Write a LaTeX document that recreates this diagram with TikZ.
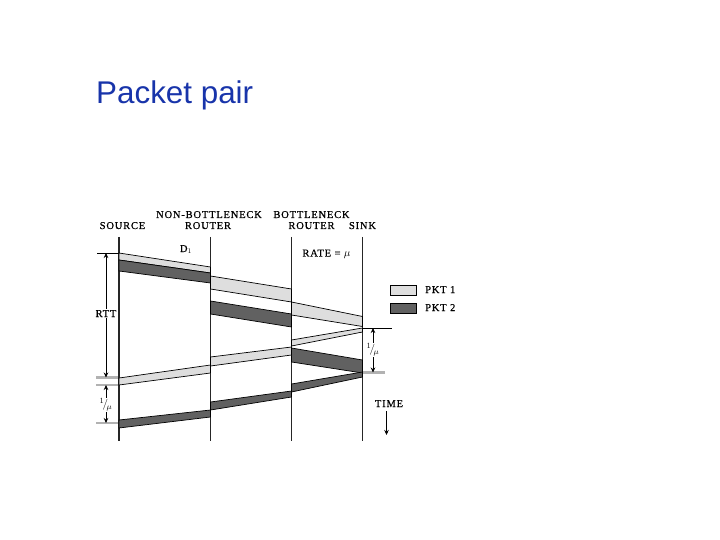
\documentclass[tikz,border=0pt]{standalone}
\usepackage{fontspec}
\setmainfont{Liberation Serif}
\newfontfamily\titlefont{Liberation Sans}
\usetikzlibrary{arrows.meta}
\definecolor{titleblue}{RGB}{24,52,170}
\definecolor{pktlight}{gray}{0.87}
\definecolor{pktdark}{gray}{0.38}
\definecolor{tickgray}{gray}{0.70}
\newcommand\lblfont{\fontsize{10.5}{12}\selectfont\addfontfeature{LetterSpace=8,FakeBold=0.6}}
\newcommand\invmu{{\fontsize{11}{12}\selectfont$^{1}\!/_{\!\mu}$}}
\begin{document}
\begin{tikzpicture}[x=1bp,y=-1bp,
  lbl/.style={font=\lblfont, inner sep=0pt, anchor=base},
  vline/.style={line width=1.3bp, draw=black!85},
  bandA/.style={fill=pktlight, draw=black, line width=0.7bp},
  bandB/.style={fill=pktdark, draw=black, line width=0.7bp},
  gtick/.style={draw=tickgray, line width=2.2bp},
  btick/.style={draw=black, line width=0.6bp},
  dimarrow/.style={draw=black, line width=0.6bp, {Stealth[length=5bp,width=4.5bp]}-{Stealth[length=5bp,width=4.5bp]}},
  onearrow/.style={draw=black, line width=0.6bp, -{Stealth[length=5bp,width=4.5bp]}},
]
\path[use as bounding box] (0,0) rectangle (720,540);
\node[font=\titlefont\fontsize{31.5}{36}\selectfont, text=titleblue, anchor=base west, inner sep=0pt] (title) at (96,104) {Packet pair};

% header labels
\node[lbl] (src) at (122.5,229) {SOURCE};
\node[lbl] (nb1) at (209,218) {NON-BOTTLENECK};
\node[lbl] (nb2) at (208,229) {ROUTER};
\node[lbl] (b1) at (311.5,218) {BOTTLENECK};
\node[lbl] (b2) at (311.5,229) {ROUTER};
\node[lbl] (sink) at (362.5,229) {SINK};
\node[lbl] (d1) at (186,252) {D$_1$};
\node[lbl] (rate) at (326.5,256.5) {RATE = $\mu$};

% vertical time lines
\coordinate (sT) at (119,237);   \coordinate (sB) at (119,441);
\coordinate (nT) at (210.5,237); \coordinate (nB) at (210.5,441);
\coordinate (bT) at (291.5,237); \coordinate (bB) at (291.5,441);
\coordinate (kT) at (362.5,237); \coordinate (kB) at (362.5,441);
\draw[vline] (sT) -- (sB);
\draw[vline] (nT) -- (nB);
\draw[vline, line width=1.6bp] (bT) -- (bB);
\draw[vline] (kT) -- (kB);

% forward packet 1
\filldraw[bandA] (119,253) -- (210.5,267) -- (210.5,273) -- (119,260) -- cycle;
\filldraw[bandA] (210.5,276) -- (291.5,289) -- (291.5,302) -- (210.5,289) -- cycle;
\filldraw[bandA] (291.5,302) -- (362.5,316.5) -- (362.5,326.5) -- (291.5,315) -- cycle;
% forward packet 2
\filldraw[bandB] (119,260) -- (210.5,273) -- (210.5,283) -- (119,271) -- cycle;
\filldraw[bandB] (210.5,301) -- (291.5,314) -- (291.5,327) -- (210.5,314) -- cycle;
\filldraw[bandB] (291.5,348) -- (362.5,360) -- (362.5,373) -- (291.5,362) -- cycle;
% returning ack 1
\filldraw[bandA] (362.5,328) -- (291.5,340) -- (291.5,346) -- (362.5,332) -- cycle;
\filldraw[bandA] (291.5,347) -- (210.5,357) -- (210.5,366) -- (291.5,355) -- cycle;
\filldraw[bandA] (210.5,365) -- (119,378) -- (119,385) -- (210.5,373) -- cycle;
% returning ack 2
\filldraw[bandB] (362.5,372) -- (291.5,384) -- (291.5,392) -- (362.5,377) -- cycle;
\filldraw[bandB] (291.5,391) -- (210.5,402) -- (210.5,410) -- (291.5,397) -- cycle;
\filldraw[bandB] (210.5,410) -- (119,420) -- (119,428) -- (210.5,417) -- cycle;

% left annotations
\coordinate (t0a) at (97,253); \coordinate (t0b) at (119,253);
\draw[btick] (t0a) -- (t0b);
\coordinate (g1a) at (96,377.5); \coordinate (g1b) at (118,377.5);
\coordinate (g2a) at (96,385);   \coordinate (g2b) at (118,385);
\coordinate (g3a) at (96,423);   \coordinate (g3b) at (118,423);
\draw[gtick] (g1a) -- (g1b);
\draw[gtick] (g2a) -- (g2b);
\draw[gtick] (g3a) -- (g3b);
\coordinate (rttT) at (106,253); \coordinate (rttB) at (106,377.5);
\draw[dimarrow] (rttT) -- (rttB);
\node[lbl, fill=white, inner sep=1pt] (rtt) at (106,317) {RTT};
\coordinate (muT) at (106,385); \coordinate (muB) at (106,423);
\draw[dimarrow] (muT) -- (muB);
\node[fill=white, inner sep=0.5pt] (mul) at (106,405) {\invmu};

% right annotations
\coordinate (r1a) at (362.5,328); \coordinate (r1b) at (392,328);
\draw[btick] (r1a) -- (r1b);
\coordinate (r2a) at (363,372.5); \coordinate (r2b) at (385,372.5);
\draw[gtick] (r2a) -- (r2b);
\coordinate (rmT) at (373,328); \coordinate (rmB) at (373,372.5);
\draw[dimarrow] (rmT) -- (rmB);
\node[fill=white, inner sep=0.5pt] (mur) at (373,350) {\invmu};

% legend
\node[draw=black, line width=0.7bp, fill=pktlight, minimum width=26bp, minimum height=10bp, inner sep=0pt] (k1) at (403,290) {};
\node[draw=black, line width=0.7bp, fill=pktdark, minimum width=26bp, minimum height=10bp, inner sep=0pt] (k2) at (403,308) {};
\node[lbl, anchor=base west] (k1t) at (425,293) {PKT 1};
\node[lbl, anchor=base west] (k2t) at (425,311) {PKT 2};

% time arrow
\node[lbl] (time) at (389,407) {TIME};
\coordinate (timeEnd) at (386.5,435);
\draw[onearrow] (time.south -| timeEnd) ++(0,4) -- (timeEnd);
\end{tikzpicture}
\end{document}
